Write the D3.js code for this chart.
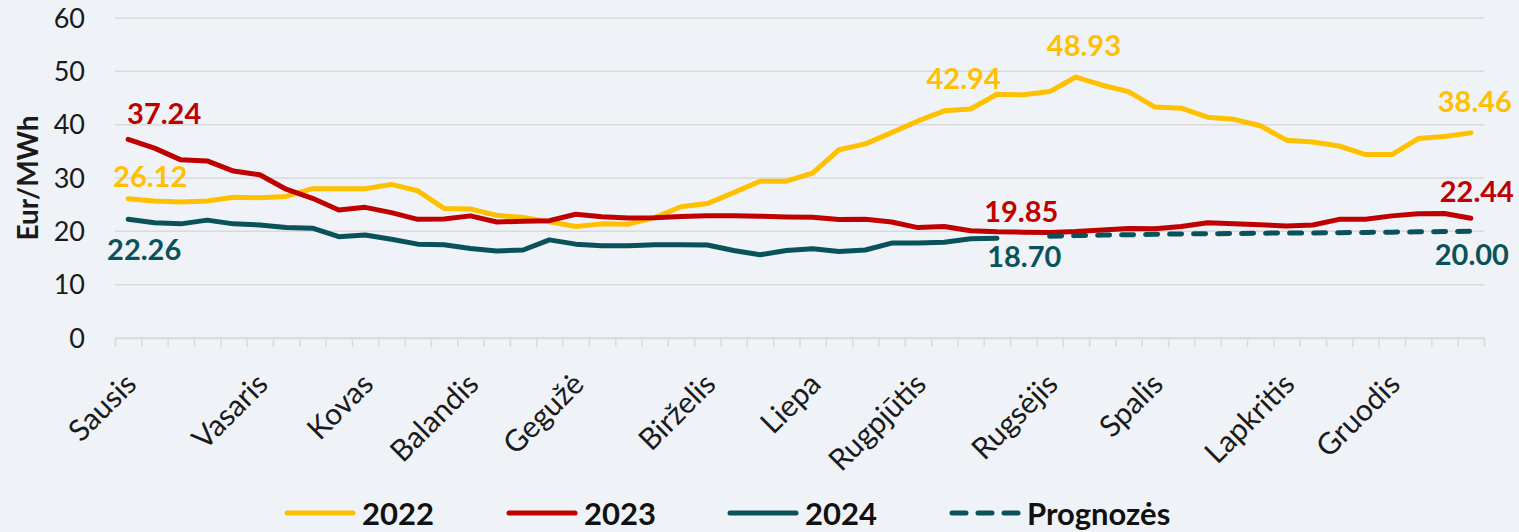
<!DOCTYPE html>
<html>
<head>
<meta charset="utf-8">
<script src="https://cdn.jsdelivr.net/npm/d3@7"></script>
<style>
  html, body { margin: 0; padding: 0; background: #eff3f7; }
  svg { display: block; font-family: Lato, "Noto Sans", sans-serif; }
  .grid line { stroke: #d9d9d9; stroke-width: 1.5; }
  .yTick { font-size: 27px; fill: #1a1a1a; }
  .month { font-size: 30px; fill: #1a1a1a; }
  .axisTitle { font-size: 28px; font-weight: bold; fill: #1a1a1a; }
  .valLabel { font-size: 29px; font-weight: bold; }
  .legendText { font-size: 31px; font-weight: bold; fill: #111; }
</style>
</head>
<body>
<div class="chart"></div>
<script>
// weekly prices, Eur/MWh, 52 weeks (index 0 = first week of Sausis)
var values2022 = [26.12, 25.7, 25.5, 25.7, 26.4, 26.3, 26.55, 28.0, 28.0, 28.0, 28.8, 27.6, 24.3,
  24.2, 23.0, 22.6, 21.8, 20.9, 21.4, 21.35, 22.6, 24.6, 25.2, 27.25, 29.4, 29.4, 30.9,
  35.3, 36.4, 38.5, 40.7, 42.6, 42.94, 45.7, 45.6, 46.2, 48.93, 47.4, 46.2, 43.3, 43.1,
  41.4, 41.0, 39.8, 37.1, 36.75, 36.0, 34.4, 34.4, 37.4, 37.8, 38.46];

var values2023 = [37.24, 35.6, 33.4, 33.2, 31.3, 30.6, 27.9, 26.2, 24.0, 24.5, 23.5, 22.25, 22.3,
  22.9, 21.75, 21.9, 22.0, 23.2, 22.75, 22.5, 22.55, 22.8, 22.9, 22.9, 22.85, 22.7, 22.65,
  22.2, 22.25, 21.75, 20.7, 20.9, 20.1, 19.9, 19.85, 19.8, 19.95, 20.25, 20.55, 20.5, 20.9,
  21.6, 21.4, 21.25, 21.0, 21.2, 22.25, 22.25, 22.9, 23.3, 23.35, 22.44];

// 2024 actual weeks 0..33
var values2024 = [22.26, 21.6, 21.4, 22.1, 21.4, 21.2, 20.7, 20.6, 19.0, 19.3, 18.5, 17.6, 17.5,
  16.8, 16.3, 16.5, 18.4, 17.6, 17.3, 17.3, 17.5, 17.5, 17.45, 16.4, 15.6, 16.4, 16.75,
  16.2, 16.5, 17.8, 17.8, 17.95, 18.6, 18.70];

// forecast, weeks 35..51
var forecastStart = 35;
var forecastValues = [19.1, 19.2, 19.3, 19.35, 19.45, 19.5, 19.55, 19.6, 19.65, 19.7, 19.7,
  19.75, 19.8, 19.85, 19.9, 19.95, 20.0];

var monthNames = ["Sausis", "Vasaris", "Kovas", "Balandis", "Gegužė", "Birželis", "Liepa",
  "Rugpjūtis", "Rugsėjis", "Spalis", "Lapkritis", "Gruodis"];
var monthWeeks = [0, 5, 9, 13, 17, 22, 26, 30, 35, 39, 44, 48];

var yTicks = [0, 10, 20, 30, 40, 50, 60];

var seriesNames = ["2022", "2023", "2024", "Prognozės"];

// value labels: series, week, text
var labelSeries = ["2023", "2022", "2024", "2022", "2022", "2022", "2023", "Prognozės", "2023", "2024"];
var labelWeeks = [0, 0, 0, 32, 36, 51, 51, 51, 34, 34];
var labelTexts = ["37.24", "26.12", "22.26", "42.94", "48.93", "38.46", "22.44", "20.00", "19.85", "18.70"];
var labelValues = [37.24, 26.12, 22.26, 42.94, 48.93, 38.46, 22.44, 20.00, 19.85, 18.70];

var width = 1519, height = 532;
var margin = { top: 18, left: 115, right: 35, bottom: 194 };

var colors = { "2022": "#ffc000", "2023": "#c00000", "2024": "#0a5259", "Prognozės": "#0a5259" };

// label nudges (px): dx from point, dy baseline from point
var labelOffsets = [
  [36, -15], [22, -12], [16, 41], [-7, -20], [8, -21], [4, -21], [6, -16], [1, 34], [-2, -10], [1, 29]
];

var svg = d3.select(".chart").append("svg")
  .attr("width", width)
  .attr("height", height);

svg.append("rect").attr("width", width).attr("height", height).attr("fill", "#eff3f7");

var weeks = d3.range(52);

var x = d3.scaleBand()
  .domain(weeks)
  .range([margin.left, width - margin.right])
  .padding(0);

var xEdge = d3.scaleLinear()
  .domain([0, 52])
  .range([margin.left, width - margin.right]);

var y = d3.scaleLinear()
  .domain([0, 60])
  .range([height - margin.bottom, margin.top]);

function cx(i) { return x(i) + x.bandwidth() / 2; }

// gridlines
svg.append("g")
  .attr("class", "grid")
  .selectAll("line")
  .data(yTicks)
  .enter().append("line")
  .attr("x1", margin.left)
  .attr("x2", width - margin.right)
  .attr("y1", function(d) { return y(d); })
  .attr("y2", function(d) { return y(d); });

// y tick labels
svg.append("g")
  .selectAll("text")
  .data(yTicks)
  .enter().append("text")
  .attr("class", "yTick")
  .attr("x", margin.left - 30)
  .attr("y", function(d) { return y(d); })
  .attr("dy", "0.36em")
  .style("text-anchor", "end")
  .text(function(d) { return d; });

// x axis: tick marks between categories
var axisBottom = d3.axisBottom(xEdge)
  .tickValues(d3.range(53))
  .tickFormat("")
  .tickSize(9)
  .tickSizeOuter(0);

var gx = svg.append("g")
  .attr("transform", "translate(0," + y(0) + ")")
  .call(axisBottom);
gx.select(".domain").attr("stroke", "#d9d9d9").attr("stroke-width", 1.5);
gx.selectAll(".tick line").attr("stroke", "#d9d9d9").attr("stroke-width", 1.5);

// month labels
svg.append("g")
  .selectAll("text")
  .data(monthNames)
  .enter().append("text")
  .attr("class", "month")
  .style("text-anchor", "end")
  .attr("transform", function(d, i) {
    return "translate(" + (cx(monthWeeks[i]) + 10) + "," + 386 + ") rotate(-45)";
  })
  .text(function(d) { return d; });

// axis title
svg.append("text")
  .attr("class", "axisTitle")
  .attr("transform", "translate(38," + 178 + ") rotate(-90)")
  .style("text-anchor", "middle")
  .text("Eur/MWh");

// lines
var line = d3.line()
  .x(function(d) { return cx(d.week); })
  .y(function(d) { return y(d.value); });

function toPoints(vals, start) {
  return vals.map(function(v, i) { return { week: start + i, value: v }; });
}

var seriesData = {
  "2022": toPoints(values2022, 0),
  "2023": toPoints(values2023, 0),
  "2024": toPoints(values2024, 0),
  "Prognozės": toPoints(forecastValues, forecastStart)
};

seriesNames.forEach(function(name) {
  svg.append("path")
    .datum(seriesData[name])
    .attr("d", line)
    .attr("fill", "none")
    .attr("stroke", colors[name])
    .attr("stroke-width", 5)
    .attr("stroke-linejoin", "round")
    .attr("stroke-linecap", "round")
    .attr("stroke-dasharray", name === "Prognozės" ? "12,12" : null);
});

// value labels
svg.append("g")
  .selectAll("text")
  .data(labelTexts)
  .enter().append("text")
  .attr("class", "valLabel")
  .style("text-anchor", "middle")
  .attr("fill", function(d, i) { return colors[labelSeries[i]]; })
  .attr("x", function(d, i) { return cx(labelWeeks[i]) + labelOffsets[i][0]; })
  .attr("y", function(d, i) { return y(labelValues[i]) + labelOffsets[i][1]; })
  .text(function(d) { return d; });

// legend
var legendX = [285, 507, 728, 950];
var legend = svg.append("g").attr("transform", "translate(0,513)");

seriesNames.forEach(function(name, i) {
  legend.append("line")
    .attr("x1", legendX[i] + 2)
    .attr("x2", legendX[i] + 68)
    .attr("y1", 0)
    .attr("y2", 0)
    .attr("stroke", colors[name])
    .attr("stroke-width", 5)
    .attr("stroke-linecap", "round")
    .attr("stroke-dasharray", name === "Prognozės" ? "14,12" : null);
  legend.append("text")
    .attr("class", "legendText")
    .attr("x", legendX[i] + 77)
    .attr("y", 12)
    .text(name);
});
</script>
</body>
</html>
